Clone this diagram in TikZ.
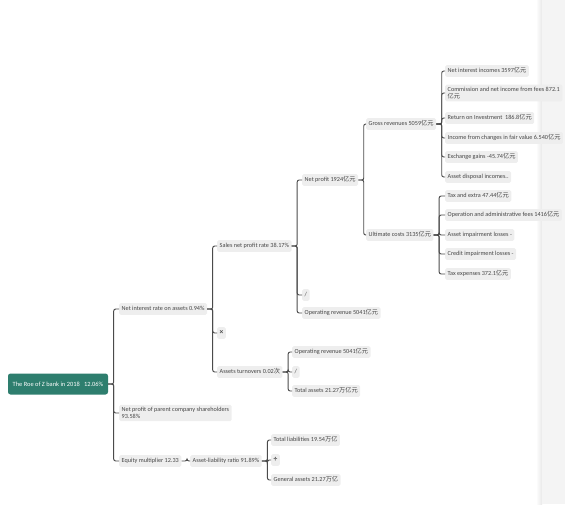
\documentclass[tikz,border=0pt]{standalone}
\usepackage{fontspec}
\setmainfont{Carlito}
\newfontfamily\cjk{Noto Sans CJK SC}
\usetikzlibrary{shapes}
\definecolor{rootGreen}{RGB}{46,126,110}
\definecolor{boxGray}{RGB}{238,238,238}
\definecolor{lineGray}{RGB}{75,75,75}
\definecolor{textGray}{RGB}{70,70,70}
\definecolor{panelGray}{RGB}{244,244,244}
\newcommand{\yiyuan}{{\cjk 亿元}}
\newcommand{\wanyi}{{\cjk 万亿}}

\begin{document}
\begin{tikzpicture}
[x=1pt,y=-1pt,%
  lineDecorate/.style={-,draw=lineGray,line width=0.95pt,rounded corners=2pt},%
  baseDecorate/.style={fill=boxGray,rounded corners=1.5pt,anchor=west,inner xsep=2.5pt,inner ysep=3pt,text=textGray,font=\fontsize{6.2}{7.4}\selectfont},%
  nodeDecorate/.style={baseDecorate,text height=4.3pt,text depth=1.3pt},%
  twoDecorate/.style={baseDecorate,align=left,inner ysep=2.3pt},%
  signDecorate/.style={nodeDecorate,font=\fontsize{7.5}{7.5}\selectfont\bfseries},%
  rootDecorate/.style={fill=rootGreen,rounded corners=2.5pt,text=white,minimum width=100pt,minimum height=21pt,inner sep=0pt,font=\fontsize{6.4}{7.4}\selectfont}]
\useasboundingbox (0,0) rectangle (565,504);
%% side panel
\shade[left color=white,right color=black!9] (536,0) rectangle (542,504);
\fill[panelGray] (542,0) rectangle (565,504);
%% root and first level
\node[rootDecorate] (roe) at (58,384) {The Roe of Z bank in 2018\ \ \ 12.06\%};
\node[nodeDecorate] (rate) at (119,309) {Net interest rate on assets 0.94\%};
\node[twoDecorate] (parent) at (119,413) {Net profit of parent company shareholders\\93.58\%};
\node[nodeDecorate] (equity) at (119,461) {Equity multiplier 12.33};
%% equity branch
\node[nodeDecorate] (ratio) at (190,461) {Asset-liability ratio 91.89\%};
\node[nodeDecorate] (liab) at (271,440) {Total liabilities 19.54\wanyi};
\node[signDecorate] (div) at (271,460) {÷};
\node[nodeDecorate] (general) at (271,480) {General assets 21.27\wanyi};
%% rate branch
\node[nodeDecorate] (sales) at (217,246) {Sales net profit rate 38.17\%};
\node[signDecorate] (times) at (217,333) {×};
\node[nodeDecorate] (turn) at (217,372) {Assets turnovers 0.02{\cjk 次}};
\node[nodeDecorate] (oprevA) at (292,352) {Operating revenue 5041\yiyuan};
\node[nodeDecorate] (slashA) at (292,372) {/};
\node[nodeDecorate] (assets) at (292,391) {Total assets 21.27{\cjk 万亿元}};
\node[nodeDecorate] (profit) at (302,180) {Net profit 1924\yiyuan};
\node[nodeDecorate] (slashB) at (302,295) {/};
\node[nodeDecorate] (oprevB) at (302,313) {Operating revenue 5041\yiyuan};
\node[nodeDecorate] (gross) at (366,124) {Gross revenues 5059\yiyuan};
\node[nodeDecorate] (costs) at (366,235) {Ultimate costs 3135\yiyuan};
%% revenue and cost items
\node[twoDecorate] (fees) at (445,93) {Commission and net income from fees 872.1\\\yiyuan};
\foreach \nodename/\y/\txt in {
  interest/71/{Net interest incomes 3597\yiyuan},
  invest/118/{Return on Investment\ \ 186.8\yiyuan},
  fair/138/{Income from changes in fair value 6.540\yiyuan},
  exchange/157/{Exchange gains -45.74\yiyuan},
  disposal/177/{Asset disposal incomes..},
  tax/196/{Tax and extra 47.44\yiyuan},
  admin/215/{Operation and administrative fees 1416\yiyuan},
  impair/235/{Asset impairment losses -},
  credit/254/{Credit impairment losses -},
  taxexp/274/{Tax expenses 372.1\yiyuan}}
{
  \node[nodeDecorate] (\nodename) at (445,\y) {\txt};
}
%% connect parents to children
\foreach \parentname/\childlist in {
  roe/{rate,parent,equity}, equity/{ratio}, ratio/{liab,div,general},
  rate/{sales,times,turn}, turn/{oprevA,slashA,assets},
  sales/{profit,slashB,oprevB}, profit/{gross,costs},
  gross/{interest,fees,invest,fair,exchange,disposal},
  costs/{tax,admin,impair,credit,taxexp}}
{
  \foreach \childname in \childlist
    \draw[lineDecorate] (\parentname.east) -- ++(5.5,0) |- (\childname.west);
}
\end{tikzpicture}
\end{document}
